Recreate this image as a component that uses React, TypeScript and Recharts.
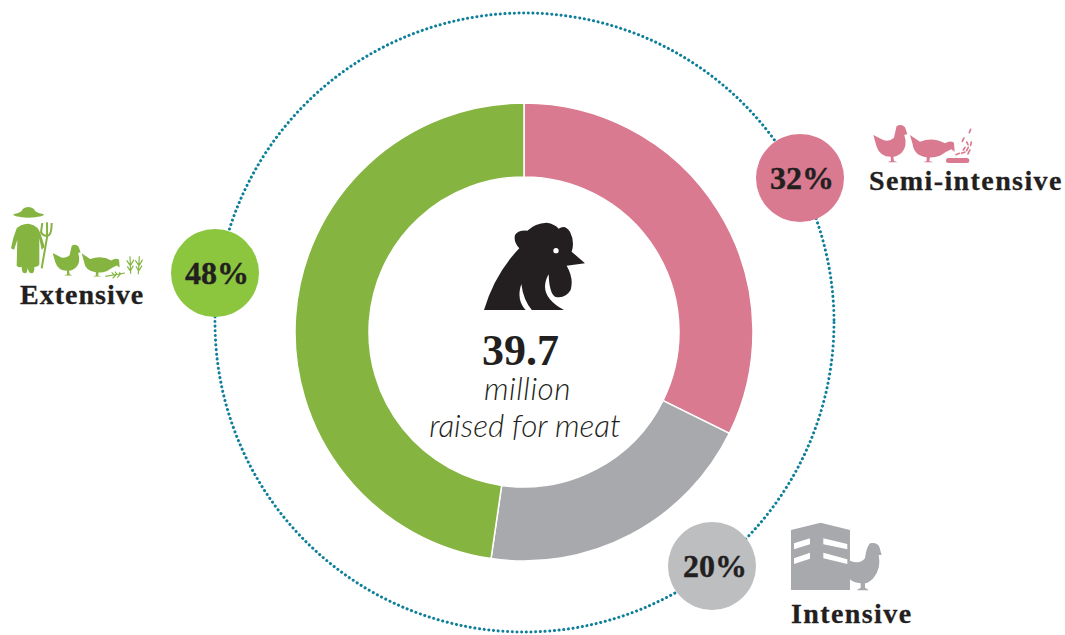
import React from "react";
import { PieChart, Pie, Cell } from "recharts";

const categories = ["Semi-intensive", "Intensive", "Extensive"];
const shares = [32.3, 20, 47.7];
const shareLabels = ["32%", "20%", "48%"];
const sliceColors = ["#d97a90", "#a7a9ac", "#85b441"];
const bubbleColors = ["#d97a90", "#bcbec0", "#8cc63f"];
const pieData = categories.map((name, i) => ({ name, value: shares[i] }));

const INK = "#231f20";
const SERIF = "'Liberation Serif', serif";
const LIGHT = "Lato, sans-serif";

const Hen = ({ fill }: { fill: string }) => (
  <path fill={fill} d="M0 27 L30 42 Q48 48 62 35 Q67 12 70 0 Q85 -8 95 4 L102 24 L93 27 Q104 60 85 80 Q70 92 60 92 L62 105 L73 109 L42 109 L53 105 L52 92 Q20 92 10 62 Z" />
);
const PeckingHen = ({ fill }: { fill: string }) => (
  <path fill={fill} d="M0 0 L30 20 Q70 5 105 25 Q120 15 132 23 L134 50 L124 43 Q108 50 90 62 Q70 69 60 67 L58 78 L70 82 L40 82 L50 78 L50 67 Q12 62 8 28 Z" />
);
const Bubble = ({ x, y, tx, color, label }: { x: number; y: number; tx: number; color: string; label: string }) => (
  <g>
    <circle cx={x} cy={y} r={44} fill={color} />
    <text x={tx} y={y + 11} textAnchor="middle" fontFamily={SERIF} fontWeight={700} fontSize={32} stroke={INK} strokeWidth={0.4} fill={INK}>{label}</text>
  </g>
);
const Title = ({ x, y, label, spacing }: { x: number; y: number; label: string; spacing: number }) => (
  <text x={x} y={y} fontFamily={SERIF} fontWeight={700} fontSize={28} letterSpacing={spacing} stroke={INK} strokeWidth={0.3} fill={INK}>{label}</text>
);

export default function App() {
  return (
    <div style={{ position: "absolute", left: 0, top: 0, width: 1065, height: 635, overflow: "hidden", background: "#fff" }}>
      <PieChart width={1065} height={635} margin={{ top: 0, right: 0, bottom: 0, left: 0 }}>
        <circle cx={524.5} cy={322.5} r={309.5} fill="none" stroke="#0e7f9a" strokeWidth={3} strokeLinecap="round" strokeDasharray="0.1 4.6" />
        <Pie data={pieData} dataKey="value" nameKey="name" cx={524} cy={332} innerRadius={155} outerRadius={229} startAngle={90} endAngle={-270} stroke="#ffffff" strokeWidth={1.5} isAnimationActive={false}>
          {pieData.map((d, i) => <Cell key={d.name} fill={sliceColors[i]} />)}
        </Pie>

        <Bubble x={800} y={178} tx={802} color={bubbleColors[0]} label={shareLabels[0]} />
        <Bubble x={712} y={566} tx={715} color={bubbleColors[1]} label={shareLabels[1]} />
        <Bubble x={215} y={273} tx={217} color={bubbleColors[2]} label={shareLabels[2]} />

        {/* rooster */}
        <g transform="translate(420,210) scale(0.3333)">
          <path fill={INK} d="M192 300 Q225 190 298 115 Q280 95 285 75 Q295 60 322 62 Q345 40 380 38 Q405 42 416 56 Q435 42 450 65 Q465 95 455 125 L495 160 L440 167 Q462 205 452 240 Q435 268 405 260 Q388 250 386 193 Q350 255 432 300 Z" />
          <path fill="#fff" d="M304 222 Q288 270 318 301 L336 301 Q310 270 304 222 Z" />
          <circle cx={408} cy={122} r={8} fill="#fff" />
        </g>
        <text x={482} y={365} fontFamily={SERIF} fontWeight={700} fontSize={44} fill={INK}>39.7</text>
        <text x={527.5} y={400} textAnchor="middle" fontFamily={LIGHT} fontWeight={300} fontStyle="italic" fontSize={31.5} letterSpacing={0.5} fill={INK}>million</text>
        <text x={525} y={437} textAnchor="middle" fontFamily={LIGHT} fontWeight={300} fontStyle="italic" fontSize={31.5} fill={INK}>raised for meat</text>

        {/* semi-intensive icons */}
        <g transform="translate(750,110) scale(0.3333)">
          <g transform="translate(370,48)"><Hen fill={sliceColors[0]} /></g>
          <g transform="translate(480,75)"><PeckingHen fill={sliceColors[0]} /></g>
          <rect x={588} y={144} width={70} height={15} rx={7.5} fill={sliceColors[0]} />
          <g stroke={sliceColors[0]} strokeWidth={5} strokeLinecap="round">
            <path d="M662 58 L658 68 M642 84 L637 94 M664 96 L662 106 M645 112 L640 120 M655 112 L650 122 M618 134 L628 130 M635 130 L645 126 M660 120 L654 132 M650 96 L654 104" />
          </g>
        </g>
        <Title x={869} y={190} label={categories[0]} spacing={1.4} />

        {/* intensive icons */}
        <g transform="translate(650,510) scale(0.3333)">
          <path fill={sliceColors[1]} d="M423 60 L512 38 L600 60 L600 240 L423 240 Z" />
          <path fill="#fff" d="M432 100 L480 85 L480 103 L432 118 Z M432 145 L480 128 L480 146 L432 162 Z M520 85 L592 102 L592 118 L520 103 Z M520 128 L592 148 L592 162 L520 145 Z" />
          <path fill={sliceColors[1]} d="M600 152 Q630 165 645 145 Q650 110 660 100 Q680 95 688 110 L695 135 L686 135 Q695 175 670 205 Q655 220 645 220 L645 233 L657 241 L620 241 L632 233 L632 220 Q610 218 600 208 Z" />
        </g>
        <Title x={791} y={623} label={categories[1]} spacing={1.4} />

        {/* extensive icons */}
        <g transform="translate(0,195) scale(0.3333)">
          <path fill={sliceColors[2]} d="M40 58 Q68 52 68 42 Q85 30 102 42 Q102 52 132 58 Q132 66 85 68 Q40 66 40 58 Z" />
          <path fill={sliceColors[2]} d="M85 86 Q60 88 50 100 Q38 130 33 160 L42 164 L52 135 L50 212 Q55 218 65 216 Q65 235 75 235 Q82 235 83 218 Q86 235 95 235 Q104 235 103 216 Q115 216 118 208 L118 130 L125 165 L134 155 Q120 105 112 98 Q100 88 85 86 Z" />
          <path fill="none" stroke={sliceColors[2]} strokeWidth={6} d="M125 220 L142 122 M127 84 L123 112 Q130 125 142 122 Q155 122 155 84 M141 82 L141 122" />
          <g transform="translate(158,152) scale(0.82)"><Hen fill={sliceColors[2]} /></g>
          <g transform="translate(245,175) scale(0.85)"><PeckingHen fill={sliceColors[2]} /></g>
          <path fill="none" stroke={sliceColors[2]} strokeWidth={3.5} d="M316 244 L375 234 M335 232 L345 242 M345 230 L352 240 M358 232 L364 238 M338 250 L348 240 M352 248 L360 238 M392 236 L390 184 M380 196 L391 212 M402 194 L391 212 M382 214 L391 228 M400 212 L391 228 M415 238 L418 184 M406 196 L417 212 M428 194 L417 212 M408 214 L416 228 M426 212 L416 228" />
        </g>
        <Title x={20} y={304} label={categories[2]} spacing={1} />
      </PieChart>
    </div>
  );
}
